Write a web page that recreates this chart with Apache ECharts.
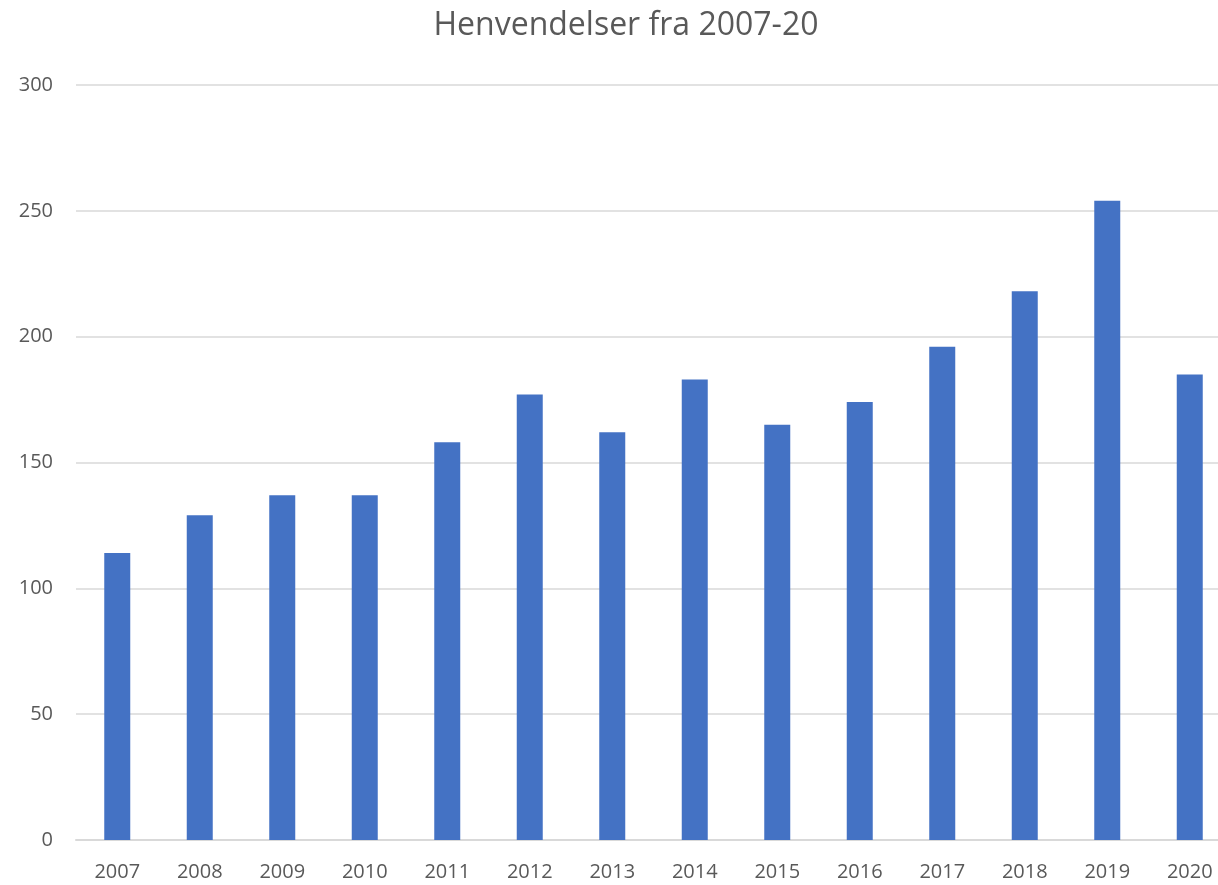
<!DOCTYPE html>
<html>
<head>
<meta charset="utf-8">
<script src="https://cdn.jsdelivr.net/npm/echarts@6/dist/echarts.min.js"></script>
<style>
  html, body { margin: 0; padding: 0; background: #fff; }
  #chart { width: 1218px; height: 885px; }
</style>
</head>
<body>
<div id="chart"></div>
<script>
const years = ['2007', '2008', '2009', '2010', '2011', '2012', '2013', '2014', '2015', '2016', '2017', '2018', '2019', '2020'];
const henvendelser = [114, 129, 137, 137, 158, 177, 162, 183, 165, 174, 196, 218, 254, 185];
const yTicks = [0, 50, 100, 150, 200, 250, 300];

const chart = echarts.init(document.getElementById('chart'));

chart.setOption({
  animation: false,
  title: {
    text: 'Henvendelser fra 2007-20',
    left: 626,
    top: 5,
    textAlign: 'center',
    textStyle: {
      fontFamily: 'Open Sans',
      fontSize: 32,
      fontWeight: 'normal',
      color: '#595959'
    }
  },
  grid: {
    left: 76,
    top: 85,
    width: 1155,
    height: 755,
    containLabel: false,
    outerBoundsMode: 'none'
  },
  xAxis: {
    type: 'category',
    data: years,
    axisLine: { lineStyle: { color: '#d9d9d9', width: 2 } },
    axisTick: { show: false },
    axisLabel: {
      fontFamily: 'Open Sans',
      fontSize: 20,
      color: '#595959',
      margin: 22
    }
  },
  yAxis: {
    type: 'value',
    min: yTicks[0],
    max: yTicks[yTicks.length - 1],
    interval: 50,
    axisLine: { show: false },
    axisTick: { show: false },
    splitLine: { lineStyle: { color: '#d9d9d9', width: 1.5 } },
    axisLabel: {
      fontFamily: 'Open Sans',
      fontSize: 20,
      color: '#595959',
      margin: 23
    }
  },
  series: [{
    type: 'bar',
    data: henvendelser,
    barWidth: 26,
    itemStyle: { color: '#4472c4' }
  }]
});
// nudge title a few px left to line up with the reference
chart.setOption({ title: { left: 621 } });
</script>
</body>
</html>
